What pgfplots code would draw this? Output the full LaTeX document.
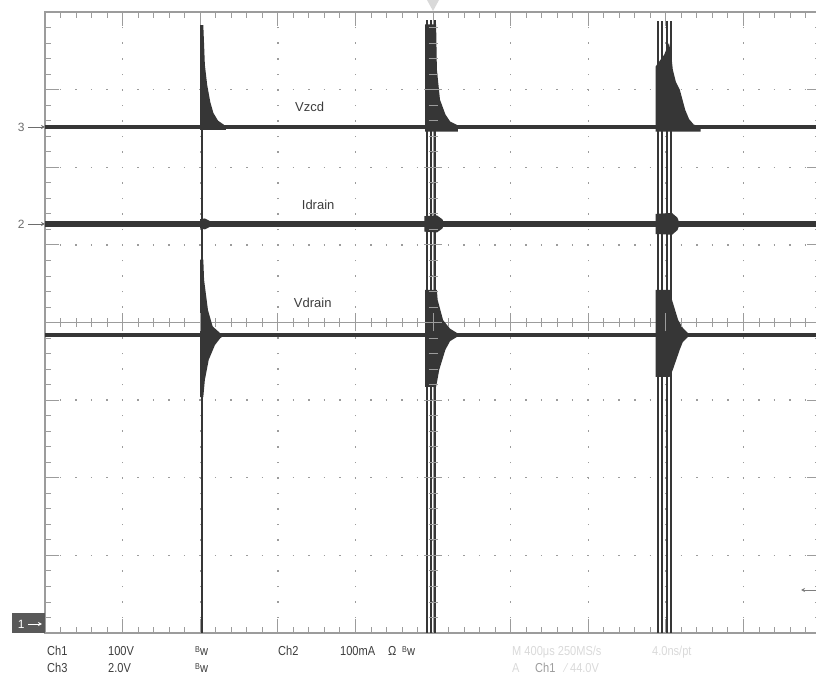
\documentclass[border=0pt]{standalone}
\usepackage{pgfplots}
\pgfplotsset{compat=1.18}
\usepackage{fontspec}
\setmainfont{Liberation Sans}
\newfontfamily\narrow[FakeStretch=0.85]{Liberation Sans}
\usetikzlibrary{arrows.meta}
\definecolor{trace}{HTML}{363636}
\definecolor{grat}{HTML}{9C9C9C}
\definecolor{faint}{HTML}{D9D9D9}
\definecolor{labc}{HTML}{3C3C3C}
\newcommand{\Bw}{\raisebox{2.5bp}{\fontsize{8.5bp}{8.5bp}\selectfont B}w}
\begin{document}
\begin{tikzpicture}
\begin{axis}[
  scale only axis, width=776bp, height=621bp,
  xmin=0, xmax=10, ymin=0, ymax=8,
  xtick={0,...,10}, ytick={0,...,8},
  minor x tick num=4, minor y tick num=4,
  xticklabels={}, yticklabels={},
  tick align=inside,
  major tick length=14bp, minor tick length=6bp,
  every tick/.style={grat, line width=0.8bp},
  axis line style={grat, line width=1.1bp},
  grid=major,
  major grid style={grat, line width=1.4bp, dash pattern=on 1.5bp off 14.02bp, dash phase=0.75bp},
  clip mode=individual,
]
\coordinate (BL) at (rel axis cs:0,0);
% centre crosshair
\addplot[grat, line width=1bp, forget plot] coordinates {(5,0) (5,8)};
\addplot[grat, line width=1bp, forget plot] coordinates {(0,4) (10,4)};

% ---- Vzcd (Ch3) ----
\addplot[trace, line width=4.5bp] coordinates {(0,6.52) (10,6.52)};
\addplot[trace, fill=trace, draw=none] coordinates {(2.00,6.48) (2.00,7.83) (2.04,7.83) (2.05,7.58) (2.06,7.32) (2.09,7.06) (2.13,6.84) (2.17,6.70) (2.23,6.60) (2.33,6.53) (2.33,6.48)} -- cycle;
\addplot[trace, fill=trace, draw=none] coordinates {(4.90,6.46) (4.90,7.84) (5.04,7.84) (5.05,7.26) (5.09,6.87) (5.16,6.68) (5.22,6.59) (5.32,6.54) (5.32,6.46)} -- cycle;
\addplot[trace, fill=trace, draw=none] coordinates {(7.87,6.46) (7.87,7.30) (7.98,7.45) (8.04,7.60) (8.07,7.45) (8.09,7.26) (8.13,7.10) (8.18,7.00) (8.25,6.74) (8.30,6.62) (8.36,6.55) (8.45,6.52) (8.45,6.46)} -- cycle;

% ---- Idrain (Ch2) ----
\addplot[trace, line width=6bp] coordinates {(0,5.27) (10,5.27)};
\addplot[trace, fill=trace, draw=none] coordinates {(2.00,5.33) (2.06,5.34) (2.12,5.31) (2.14,5.27) (2.12,5.23) (2.06,5.20) (2.00,5.21)} -- cycle;
\addplot[trace, fill=trace, draw=none] coordinates {(4.89,5.37) (5.05,5.38) (5.12,5.33) (5.15,5.27) (5.12,5.21) (5.05,5.16) (4.89,5.17)} -- cycle;
\addplot[trace, fill=trace, draw=none] coordinates {(7.87,5.40) (8.08,5.41) (8.15,5.35) (8.18,5.27) (8.15,5.19) (8.08,5.13) (7.87,5.14)} -- cycle;

% ---- Vdrain (Ch1) ----
\addplot[trace, line width=4.5bp] coordinates {(0,3.84) (10,3.84)};
\addplot[trace, fill=trace, draw=none] coordinates {(2.00,4.81) (2.04,4.81) (2.05,4.55) (2.10,4.16) (2.16,3.95) (2.26,3.86) (2.32,3.84) (2.26,3.80) (2.19,3.71) (2.11,3.52) (2.06,3.26) (2.04,3.04) (2.00,3.04)} -- cycle;
\addplot[trace, fill=trace, draw=none] coordinates {(4.90,4.42) (5.05,4.42) (5.06,4.29) (5.13,4.03) (5.22,3.92) (5.35,3.84) (5.22,3.76) (5.16,3.65) (5.08,3.39) (5.04,3.17) (4.90,3.17)} -- cycle;
\addplot[trace, fill=trace, draw=none] coordinates {(7.87,4.42) (8.07,4.42) (8.08,4.29) (8.16,4.03) (8.22,3.93) (8.31,3.84) (8.22,3.75) (8.18,3.65) (8.09,3.39) (8.05,3.30) (7.87,3.30)} -- cycle;

% switching edges
\addplot[trace, line width=2bp] coordinates {(2.02,0) (2.02,6.50)};
\addplot[trace, line width=1.8bp] coordinates {(4.92,0) (4.92,7.90)};
\addplot[trace, line width=1.8bp] coordinates {(4.97,0) (4.97,7.90)};
\addplot[trace, line width=1.8bp] coordinates {(5.03,0) (5.03,7.90)};
\addplot[trace, line width=1.8bp] coordinates {(7.90,0) (7.90,7.88)};
\addplot[trace, line width=1.8bp] coordinates {(7.95,0) (7.95,7.88)};
\addplot[trace, line width=1.8bp] coordinates {(8.02,0) (8.02,7.88)};
\addplot[trace, line width=1.8bp] coordinates {(8.07,0) (8.07,7.88)};

% trace labels
\node[text=labc, font=\fontsize{13bp}{15bp}\selectfont] at (axis cs:3.41,6.78) {Vzcd};
\node[text=labc, font=\fontsize{13bp}{15bp}\selectfont] at (axis cs:3.52,5.52) {Idrain};
\node[text=labc, font=\fontsize{13bp}{15bp}\selectfont] at (axis cs:3.45,4.25) {Vdrain};
\end{axis}

% centre crosshair ticks
\foreach \i in {1,...,49}{
  \pgfmathsetmacro\L{ifthenelse(mod(\i,5)==0,9,4.5)}
  \draw[grat, line width=0.8bp] ([shift={(\i*15.52bp,{(310.5-\L)*1bp})}]BL) -- ++(0,{2*\L*1bp});
}
\foreach \j in {1,...,39}{
  \pgfmathsetmacro\L{ifthenelse(mod(\j,5)==0,9,4.5)}
  \draw[grat, line width=0.8bp] ([shift={({(388-\L)*1bp},\j*15.525bp)}]BL) -- ++({2*\L*1bp},0);
}

% channel markers
\node[text=grat!70!black, anchor=east, font=\fontsize{12bp}{14bp}\selectfont] at ([shift={(-17bp,506bp)}]BL) {3};
\draw[grat!70!black, line width=0.8bp, -{Stealth[length=4bp,width=4bp]}] ([shift={(-17bp,506bp)}]BL) -- ([shift={(0bp,506bp)}]BL);
\node[text=grat!70!black, anchor=east, font=\fontsize{12bp}{14bp}\selectfont] at ([shift={(-17bp,409bp)}]BL) {2};
\draw[grat!70!black, line width=0.8bp, -{Stealth[length=4bp,width=4bp]}] ([shift={(-17bp,409bp)}]BL) -- ([shift={(0bp,409bp)}]BL);
\fill[black!65] ([shift={(-33bp,0bp)}]BL) rectangle ([shift={(0bp,20bp)}]BL);
\node[text=white, anchor=east, font=\fontsize{12bp}{14bp}\selectfont] at ([shift={(-17bp,9bp)}]BL) {1};
\draw[white, line width=0.8bp, -{Stealth[length=4bp,width=4bp]}] ([shift={(-17bp,9bp)}]BL) -- ([shift={(-3bp,9bp)}]BL);
% trigger level
\draw[grat!80!black, line width=0.8bp, -{Stealth[length=4bp,width=4bp]}] ([shift={(772bp,43bp)}]BL) -- ([shift={(756bp,43bp)}]BL);
% trigger position
\fill[faint] ([shift={(382bp,633bp)}]BL) -- ([shift={(394bp,633bp)}]BL) -- ([shift={(388bp,622bp)}]BL) -- cycle;

% readout
\begin{scope}[every node/.style={anchor=base west, inner sep=0pt, font=\narrow\fontsize{13bp}{15bp}\selectfont}]
\node[text=labc] at ([shift={(2bp,-22bp)}]BL) {Ch1};
\node[text=labc] at ([shift={(63bp,-22bp)}]BL) {100V};
\node[text=labc] at ([shift={(150bp,-22bp)}]BL) {\Bw};
\node[text=labc] at ([shift={(233bp,-22bp)}]BL) {Ch2};
\node[text=labc] at ([shift={(295bp,-22bp)}]BL) {100mA};
\node[text=labc] at ([shift={(343bp,-22bp)}]BL) {Ω};
\node[text=labc] at ([shift={(357bp,-22bp)}]BL) {\Bw};
\node[text=faint] at ([shift={(467bp,-22bp)}]BL) {M 400μs 250MS/s};
\node[text=faint] at ([shift={(607bp,-22bp)}]BL) {4.0ns/pt};
\node[text=labc] at ([shift={(2bp,-39bp)}]BL) {Ch3};
\node[text=labc] at ([shift={(63bp,-39bp)}]BL) {2.0V};
\node[text=labc] at ([shift={(150bp,-39bp)}]BL) {\Bw};
\node[text=faint] at ([shift={(467bp,-39bp)}]BL) {A};
\node[text=grat] at ([shift={(490bp,-39bp)}]BL) {Ch1};
\node[text=faint] at ([shift={(520bp,-39bp)}]BL) {∕ 44.0V};
\end{scope}

\pgfresetboundingbox
\path[use as bounding box] ([shift={(-45bp,-53bp)}]BL) rectangle ([shift={(771bp,633bp)}]BL);
\end{tikzpicture}
\end{document}
